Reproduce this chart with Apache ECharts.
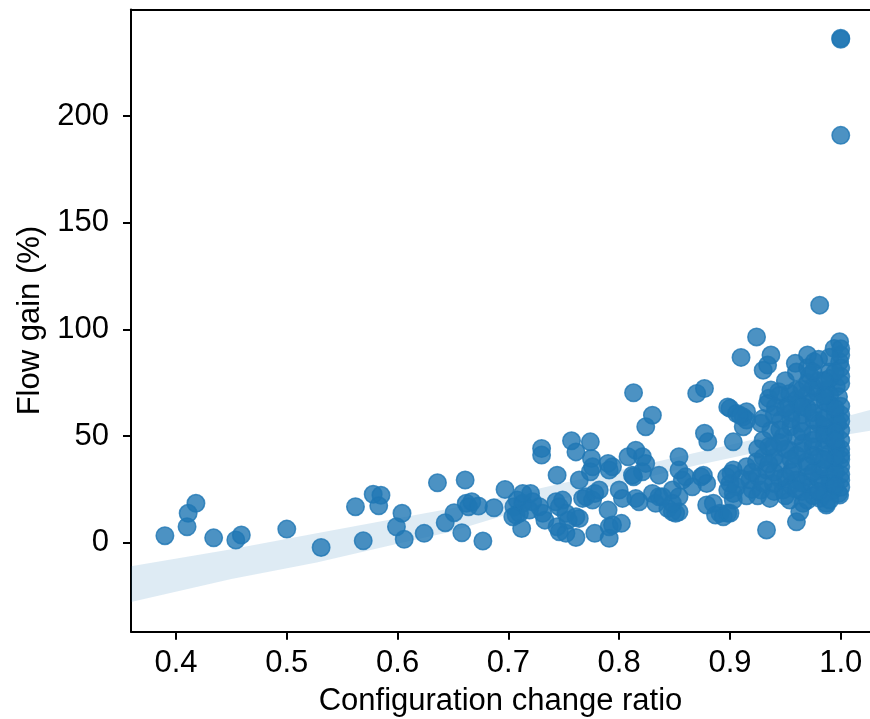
<!DOCTYPE html>
<html>
<head>
<meta charset="utf-8">
<script src="https://cdn.jsdelivr.net/npm/echarts@6/dist/echarts.min.js"></script>
<style>
html,body{margin:0;padding:0;background:#fff;}
#chart{width:870px;height:719px;}
</style>
</head>
<body>
<div id="chart"></div>
<script>
// Tick labels
const xTicks = [0.4, 0.5, 0.6, 0.7, 0.8, 0.9, 1.0];
const yTicks = [0, 50, 100, 150, 200];

// Scatter points: [configuration change ratio, flow gain (%)]
const points = [
[0.390,3.3],[0.410,7.5],[0.411,13.8],[0.418,18.5],[0.434,2.3],[0.454,1.3],[0.459,3.6],[0.500,6.4],[0.531,-2.2],
[0.562,16.9],[0.578,22.7],[0.585,22.3],[0.583,17.3],[0.569,0.9],[0.604,13.8],[0.599,7.5],[0.606,1.6],[0.624,4.4],
[0.636,28.1],[0.643,9.4],[0.651,14.1],[0.661,29.4],[0.658,4.7],[0.662,18.5],[0.664,16.9],[0.667,19.2],[0.673,17.2],
[0.677,0.8],[0.687,16.4],[0.697,25.0],
[0.705,16.9],[0.708,20.0],[0.710,13.8],[0.707,13.0],[0.713,18.5],[0.712,6.7],[0.720,23.1],[0.722,19.2],[0.728,16.9],
[0.731,13.8],[0.733,10.6],[0.730,44.2],[0.730,41.1],[0.744,31.7],[0.743,19.2],[0.746,16.9],[0.749,20.0],[0.746,5.2],
[0.752,4.4],[0.757,47.8],[0.761,42.6],[0.764,29.4],[0.764,11.4],[0.761,2.5],[0.774,47.3],[0.775,39.5],[0.774,33.3],
[0.770,21.6],[0.776,20.0],[0.778,4.4],[0.713,23.1],[0.704,12.2],[0.719,15.3],[0.744,7.5],[0.752,13.8],[0.754,10.6],
[0.761,12.2],[0.767,20.8],[0.776,35.6],[0.778,23.1],[0.782,24.7],[0.791,34.1],[0.790,37.2],[0.794,35.6],[0.791,2.1],
[0.791,7.5],[0.802,9.1],[0.790,15.3],[0.794,8.3],[0.800,24.7],[0.803,20.8],[0.815,20.8],[0.818,19.2],[0.808,40.3],
[0.815,43.4],[0.821,40.3],[0.824,37.2],[0.813,30.9],[0.821,33.3],[0.812,31.7],
[0.813,70.3],[0.830,59.8],[0.824,54.4],[0.836,31.7],[0.830,23.1],[0.836,21.6],[0.833,18.5],[0.844,16.1],[0.848,14.5],
[0.854,14.5],[0.854,21.6],[0.848,24.7],[0.854,34.1],[0.854,40.3],[0.857,29.4],[0.866,26.2],[0.860,30.9],[0.851,13.8],
[0.848,18.5],[0.839,21.6],
[0.870,70.0],[0.877,72.3],[0.877,51.3],[0.880,47.3],[0.874,30.9],[0.879,27.8],[0.876,31.7],[0.885,18.5],[0.887,13.0],
[0.879,17.7],[0.891,13.8],[0.898,13.8],[0.894,12.2],
[0.900,63.0],[0.898,63.7],[0.906,60.6],[0.912,59.0],[0.915,61.4],[0.903,47.3],[0.912,54.4],[0.915,57.5],[0.909,59.8],
[0.897,30.9],[0.903,34.1],[0.900,27.8],[0.903,23.1],[0.898,24.7],[0.906,26.2],[0.901,32.5],[0.903,20.0],[0.900,13.8],
[0.924,96.5],[0.910,86.9],[0.937,88.0],[0.934,83.3],[0.930,80.9],[0.981,111.4],[0.999,94.2],[0.994,91.1],[0.970,88.0],
[0.976,84.8],[0.959,84.1],[0.990,80.1],[0.999,84.8],[0.972,78.6],[0.937,71.6],[0.935,67.7],[0.944,70.8],[0.960,71.6],
[0.930,58.3],
[0.945,69.2],[0.954,70.0],[0.969,69.2],[0.978,70.8],[0.987,71.6],[0.996,73.1],[1.000,74.7],
[0.934,65.3],[0.941,63.7],[0.953,64.5],[0.962,65.3],[0.974,66.1],[0.986,66.1],[0.998,68.4],
[0.928,56.0],[0.937,52.8],[0.946,57.5],[0.955,54.4],[0.964,56.0],[0.976,57.5],[0.985,54.4],[0.997,56.0],[1.000,52.8],
[0.930,48.1],[0.939,45.0],[0.948,49.7],[0.954,43.4],[0.966,46.6],[0.975,45.0],[0.987,48.1],[0.996,45.0],[1.000,48.1],
[0.915,35.6],[0.924,38.0],[0.933,34.1],[0.945,37.2],[0.957,35.6],[0.969,38.0],[0.981,34.1],[0.993,37.2],[1.000,35.6],
[0.918,29.4],[0.928,24.7],[0.939,27.8],[0.948,24.7],[0.960,29.4],[0.972,26.2],[0.984,27.8],[0.993,24.7],[1.000,29.4],
[0.936,20.8],[0.954,20.0],[0.966,18.5],[0.987,18.5],[0.998,23.1],[0.933,6.0],[0.960,9.8],[0.963,14.5],[0.987,17.7],
[0.981,20.8],[0.999,22.4],
[0.950,31.0],[0.960,41.0],[0.970,31.0],[0.980,40.0],[0.990,31.0],[0.990,42.0],[0.975,51.0],[0.985,61.0],[0.995,60.0],
[0.965,60.0],[0.955,61.0],[0.970,75.0],[0.980,76.0],[0.990,77.0],[1.000,78.0],[1.000,82.0],[1.000,88.0],[1.000,91.0],
[0.990,65.0],[1.000,64.0],[1.000,60.0],[1.000,57.0],[1.000,44.0],[1.000,41.0],[1.000,39.0],[1.000,32.0],[1.000,26.0],
[0.940,40.0],[0.950,44.0],[0.960,50.0],[0.945,53.0],[0.930,40.0],[0.925,31.0],[0.920,25.0],[0.955,27.0],[0.965,24.0],
[0.975,22.0],[0.985,23.0],[0.990,28.0],[0.980,30.0],[0.970,36.0],[0.985,45.0],[0.990,50.0],[0.980,56.0],[0.970,63.0],
[0.960,67.0],[0.990,69.0],[0.950,76.0],[0.960,80.0],[0.970,82.0],[0.980,86.0],[0.990,87.0],
[0.945,30.0],[0.955,33.0],[0.965,28.0],[0.975,33.0],[0.985,35.0],[0.995,33.0],[0.940,24.0],[0.950,22.0],[0.960,25.0],
[0.970,20.0],[0.980,24.0],[0.990,20.0],[0.995,27.0],[0.995,40.0],[0.985,39.0],[0.975,41.0],[0.965,43.0],[0.955,39.0],
[0.945,47.0],[0.965,52.0],[0.975,48.0],[0.985,51.0],[0.995,52.0],[0.995,48.0],[0.955,58.0],[0.965,64.0],[0.975,61.0],
[0.985,58.0],[0.995,63.0],[0.985,69.0],[0.975,73.0],[0.965,72.0],[0.995,80.0],[0.985,76.0],[0.975,80.0],[0.940,60.0],
[0.950,63.0],[0.935,45.0],[0.925,44.0],[0.920,33.0],[0.910,30.0],[0.915,22.0],[0.925,22.0],[0.930,28.0],[0.940,33.0],
[0.935,37.0],
[1.000,236.5],[1.000,236.0],[1.000,191.0]
];

// Confidence band edges
const bandX     = [0.3594, 0.45, 0.527, 0.60, 0.647, 0.72, 0.80, 0.87, 0.93, 0.98, 1.0264];
const bandUpper = [-11.0, -3.0, 4.4, 11.5, 16.0, 24.5, 34.0, 42.3, 49.5, 55.8, 62.2];
const bandLower = [-27.8, -17.0, -9.2, -0.5, 5.0, 16.5, 27.5, 36.3, 43.0, 48.5, 52.5];

const FONT = 'Liberation Sans, Arial, Helvetica, sans-serif';
const chart = echarts.init(document.getElementById('chart'), null, {renderer: 'canvas'});

const axisLineStyle = {color: '#000', width: 2};

chart.setOption({
  animation: false,
  backgroundColor: '#fff',
  grid: {left: 131, top: 9.5, right: 0, bottom: 87.3, containLabel: false, outerBoundsMode: 'none'},
  xAxis: [{
    type: 'value', min: 0.3594, max: 1.0264, position: 'bottom',
    name: 'Configuration change ratio', nameLocation: 'middle', nameGap: 54,
    nameTextStyle: {fontFamily: FONT, fontSize: 31, color: '#000'},
    axisLine: {show: true, onZero: false, lineStyle: axisLineStyle},
    axisTick: {show: true, length: 8, lineStyle: axisLineStyle, customValues: xTicks},
    axisLabel: {show: true, margin: 16, fontFamily: FONT, fontSize: 31, color: '#000',
      customValues: xTicks, formatter: v => Number(v).toFixed(1)},
    splitLine: {show: false}
  }, {
    type: 'value', min: 0.3594, max: 1.0264, position: 'top',
    axisLine: {show: true, onZero: false, lineStyle: axisLineStyle},
    axisTick: {show: false}, axisLabel: {show: false}, splitLine: {show: false}
  }],
  yAxis: {
    type: 'value', min: -41.7, max: 250,
    name: 'Flow gain (%)', nameLocation: 'middle', nameGap: 82, nameRotate: 90,
    nameTextStyle: {fontFamily: FONT, fontSize: 31, color: '#000'},
    axisLine: {show: true, onZero: false, lineStyle: axisLineStyle},
    axisTick: {show: true, length: 8, lineStyle: axisLineStyle, customValues: yTicks},
    axisLabel: {show: true, margin: 22, fontFamily: FONT, fontSize: 31, color: '#000',
      customValues: yTicks, formatter: v => String(v)},
    splitLine: {show: false}
  },
  series: [{
    type: 'custom',
    silent: true,
    z: 1,
    data: [[bandX[0], bandLower[0]]],
    renderItem: function (params, api) {
      const pts = [];
      for (let i = 0; i < bandX.length; i++) pts.push(api.coord([bandX[i], bandUpper[i]]));
      for (let i = bandX.length - 1; i >= 0; i--) pts.push(api.coord([bandX[i], bandLower[i]]));
      return {type: 'polygon', shape: {points: pts}, style: {fill: 'rgba(31,119,180,0.15)', stroke: null}};
    }
  }, {
    type: 'scatter',
    z: 2,
    symbol: 'circle',
    symbolSize: 17.5,
    data: points,
    itemStyle: {color: '#1f77b4', borderColor: '#1f77b4', borderWidth: 1.5, opacity: 0.8}
  }]
});
</script>
</body>
</html>
